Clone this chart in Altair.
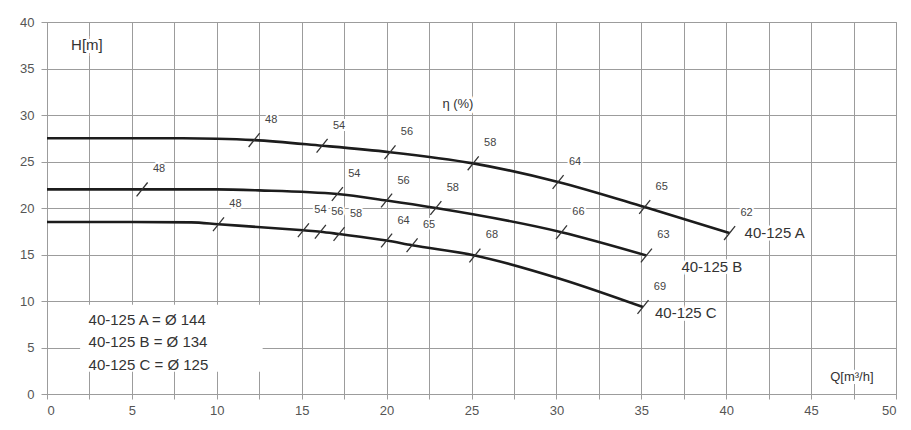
import altair as alt
import pandas as pd

# ---- data ----
curve_names = ["40-125 A", "40-125 B", "40-125 C"]

a_q = [0, 4, 8, 10, 12.2, 16.2, 20.2, 25.1, 30.1, 35.2, 40.2]
a_h = [27.5, 27.5, 27.5, 27.45, 27.3, 26.7, 26.0, 24.8, 22.8, 20.1, 17.3]

b_q = [0, 5.6, 10, 12.5, 17.1, 20.0, 22.9, 30.3, 35.3]
b_h = [22.0, 22.0, 22.0, 21.9, 21.5, 20.8, 20.0, 17.4, 14.9]

c_q = [0, 5, 8.5, 10.1, 15.1, 16.1, 17.2, 20.0, 21.5, 25.2, 30.2, 35.1]
c_h = [18.5, 18.5, 18.45, 18.25, 17.6, 17.45, 17.2, 16.5, 16.0, 14.9, 12.4, 9.35]

# efficiency marks on each curve
a_eff_q = [12.2, 16.2, 20.2, 25.1, 30.1, 35.2, 40.2]
a_eff_h = [27.3, 26.7, 26.0, 24.8, 22.8, 20.1, 17.3]
a_eff = ["48", "54", "56", "58", "64", "65", "62"]

b_eff_q = [5.6, 17.1, 20.0, 22.9, 30.3, 35.3]
b_eff_h = [22.0, 21.5, 20.8, 20.0, 17.4, 14.9]
b_eff = ["48", "54", "56", "58", "66", "63"]

c_eff_q = [10.1, 15.1, 16.1, 17.2, 20.0, 21.5, 25.2, 35.1]
c_eff_h = [18.25, 17.6, 17.45, 17.2, 16.5, 16.0, 14.9, 9.35]
c_eff = ["48", "54", "56", "58", "64", "65", "68", "69"]

legend_lines = ["40-125 A = Ø 144", "40-125 B = Ø 134", "40-125 C = Ø 125"]

x_ticks = [i * 2.5 for i in range(21)]
y_ticks = [i * 2.5 for i in range(17)]

# ---- tables ----
rows = []
for name, qs, hs in zip(curve_names, [a_q, b_q, c_q], [a_h, b_h, c_h]):
    for q, h in zip(qs, hs):
        rows.append({"curve": name, "Q": q, "H": h})
curves = pd.DataFrame(rows)

erows = []
for name, qs, hs, es in zip(curve_names, [a_eff_q, b_eff_q, c_eff_q],
                            [a_eff_h, b_eff_h, c_eff_h], [a_eff, b_eff, c_eff]):
    for q, h, e in zip(qs, hs, es):
        erows.append({"curve": name, "Q": q, "H": h, "eff": e})
eff = pd.DataFrame(erows)

ends = pd.DataFrame({"curve": curve_names,
                     "Q": [a_q[-1], b_q[-1], c_q[-1]],
                     "H": [a_h[-1], b_h[-1], c_h[-1]]})

FONT = "Liberation Sans"
GRID = "#9c9c9c"

xs = alt.Scale(domain=[0, 50], nice=False)
ys = alt.Scale(domain=[0, 40], nice=False)

x_axis = alt.Axis(values=x_ticks, labelExpr="datum.value % 5 == 0 ? datum.label : ''",
                  grid=True, gridColor=GRID, gridWidth=1, tickColor=GRID, tickSize=5,
                  domainColor=GRID, labelColor="#555", labelFont=FONT, labelFontSize=13,
                  labelPadding=5, title=None)
y_axis = alt.Axis(values=y_ticks, labelExpr="datum.value % 5 == 0 ? datum.label : ''",
                  grid=True, gridColor=GRID, gridWidth=1, tickColor=GRID, tickSize=6,
                  domainColor=GRID, labelColor="#555", labelFont=FONT, labelFontSize=13,
                  labelPadding=7, title=None)

base = alt.Chart(curves)

lines = base.mark_line(color="#1c1c1c", strokeWidth=2.6, interpolate="monotone").encode(
    x=alt.X("Q:Q", scale=xs, axis=x_axis),
    y=alt.Y("H:Q", scale=ys, axis=y_axis),
    detail="curve:N",
)

ticks = alt.Chart(eff).mark_point(shape="M -0.8 1 L 0.8 -1", size=190, filled=False,
                                  color="#333", strokeWidth=1.3, opacity=1).encode(
    x=alt.X("Q:Q", scale=xs), y=alt.Y("H:Q", scale=ys))

eff_halo = alt.Chart(eff).mark_text(dx=17, dy=-20, fontSize=11, font=FONT, color="white",
                                    stroke="white", strokeWidth=4).encode(
    x=alt.X("Q:Q", scale=xs), y=alt.Y("H:Q", scale=ys), text="eff:N")
eff_text = alt.Chart(eff).mark_text(dx=17, dy=-20, fontSize=11, font=FONT, color="#444").encode(
    x=alt.X("Q:Q", scale=xs), y=alt.Y("H:Q", scale=ys), text="eff:N")

name_layers = []
offsets = {"40-125 A": (15, 0), "40-125 B": (35, 12), "40-125 C": (12, 6)}
for name in curve_names:
    dx, dy = offsets[name]
    sub = alt.Chart(ends).transform_filter(alt.datum.curve == name)
    for halo in (True, False):
        kw = dict(align="left", baseline="middle", dx=dx, dy=dy, fontSize=15, font=FONT)
        if halo:
            kw.update(color="white", stroke="white", strokeWidth=5)
        else:
            kw.update(color="#333")
        name_layers.append(sub.mark_text(**kw).encode(
            x=alt.X("Q:Q", scale=xs), y=alt.Y("H:Q", scale=ys), text="curve:N"))

# legend box
box = alt.Chart(pd.DataFrame({"x": [1.95], "x2": [12.7], "y": [2.4], "y2": [9.6]})).mark_rect(
    color="white").encode(x=alt.X("x:Q", scale=xs), x2="x2", y=alt.Y("y:Q", scale=ys), y2="y2")
legend_df = pd.DataFrame({"t": legend_lines, "y": [7.95, 5.6, 3.15]})
legend = alt.Chart(legend_df).mark_text(align="left", baseline="middle", fontSize=15,
                                        font=FONT, color="#333").encode(
    x=alt.datum(2.45, scale=xs), y=alt.Y("y:Q", scale=ys), text="t:N")

def label(txt, q, h, size, halo_w=6):
    df = pd.DataFrame({"t": [txt]})
    h_ = alt.Chart(df).mark_text(fontSize=size, font=FONT, color="white", stroke="white",
                                 strokeWidth=halo_w, baseline="middle").encode(
        x=alt.datum(q, scale=xs), y=alt.datum(h, scale=ys), text="t:N")
    t_ = alt.Chart(df).mark_text(fontSize=size, font=FONT, color="#333",
                                 baseline="middle").encode(
        x=alt.datum(q, scale=xs), y=alt.datum(h, scale=ys), text="t:N")
    return [h_, t_]

extra = []
extra += label("H[m]", 2.35, 37.5, 15)
extra += label("η (%)", 24.2, 31.2, 13)
extra += label("Q[m³/h]", 47.4, 1.8, 13)

chart = alt.layer(
    lines, box, legend, ticks, eff_halo, eff_text, *name_layers, *extra
).properties(
    width=849, height=372,
    autosize=alt.AutoSizeParams(type="none"),
    padding={"left": 39, "top": 14, "right": 7, "bottom": 28},
    background="white",
).configure_view(stroke=GRID)

chart.save("out.html", embed_options={"renderer": "svg", "actions": False})
